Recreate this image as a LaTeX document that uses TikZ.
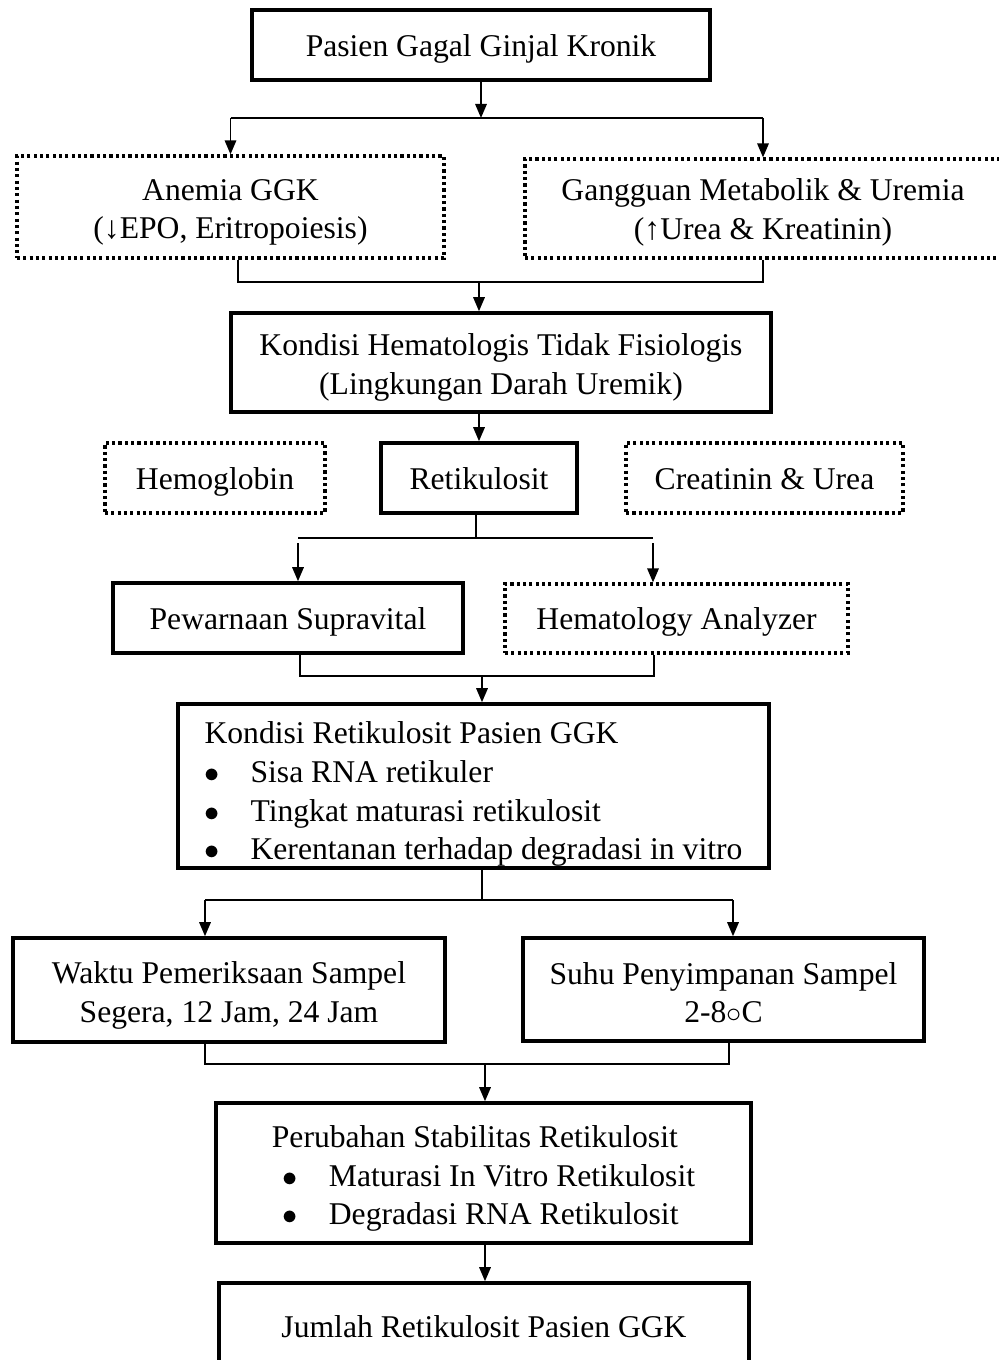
\documentclass[tikz,border=0pt]{standalone}
\usepackage{fontspec}
\setmainfont{Liberation Serif}
\usepackage{tikz}
\usetikzlibrary{arrows.meta, positioning, calc}
\tikzstyle{kotak} = [draw, line width=2pt, align=center, inner sep=2pt]
\tikzstyle{titik} = [draw, line width=1.8pt, dash pattern=on 1.8pt off 1.8pt, align=center, inner sep=2pt]
\tikzstyle{satu} = [text height=16pt, text depth=3pt]
\tikzstyle{garis} = [line width=1.1pt]
\tikzstyle{panah} = [-{Triangle[length=8pt, width=6.5pt]}, line width=1.1pt]
\newcommand{\butir}[2]{\hspace*{#1}\makebox[0.92cm][l]{$\bullet$}#2}
\newcommand{\atas}[1]{\rule{0pt}{#1}}

\begin{document}
\begin{tikzpicture}[font=\fontsize{18}{22}\selectfont]
    \useasboundingbox (0,0) rectangle (19.96,-27.2);

    % Pasien dan penyebab
    \node[kotak, satu, minimum width=9.16cm, minimum height=1.4cm] (pasien) at (9.62,-0.9) {Pasien Gagal Ginjal Kronik};
    \node[titik, minimum width=8.54cm, minimum height=2.04cm] (anemia) at (4.61,-4.14) {\atas{18pt}Anemia GGK\\(↓EPO, Eritropoiesis)};
    \node[titik, minimum width=9.52cm, minimum height=1.98cm] (gangguan) at (15.26,-4.17) {\atas{17pt}Gangguan Metabolik \& Uremia\\(↑Urea \& Kreatinin)};
    \node[kotak, minimum width=10.8cm, minimum height=1.98cm] (hemato) at (10.02,-7.25) {\atas{18pt}Kondisi Hematologis Tidak Fisiologis\\(Lingkungan Darah Uremik)};

    \coordinate (j1) at (9.62,-2.36);
    \coordinate (j2) at (9.58,-5.64);
    \draw[panah] (pasien) -- (j1);
    \draw[garis] (anemia.north |- j1) -- (gangguan.north |- j1);
    \draw[panah] (anemia.north |- j1) -- (anemia.north);
    \draw[panah] (gangguan.north |- j1) -- (gangguan.north);
    \draw[garis] ([xshift=0.15cm]anemia.south) |- (gangguan.south |- j2) -- (gangguan.south);
    \draw[panah] (j2) -- (j2 |- hemato.north);

    % Parameter
    \node[titik, satu, minimum width=4.4cm, minimum height=1.4cm] (hb) at (4.3,-9.56) {Hemoglobin};
    \node[kotak, satu, minimum width=3.92cm, minimum height=1.4cm] (retik) at (9.58,-9.56) {Retikulosit};
    \node[titik, satu, minimum width=5.54cm, minimum height=1.4cm] (kreat) at (15.29,-9.56) {Creatinin \& Urea};
    \draw[panah] (hemato.south -| retik) -- (retik.north);

    % Metode pemeriksaan
    \node[kotak, satu, minimum width=7.0cm, minimum height=1.4cm] (pewarnaan) at (5.76,-12.36) {Pewarnaan Supravital};
    \node[titik, satu, minimum width=6.86cm, minimum height=1.38cm] (analyzer) at (13.53,-12.37) {Hematology Analyzer};

    \coordinate (j3) at (9.52,-10.76);
    \coordinate (j3_kiri) at (5.96,-10.76);
    \coordinate (j3_kanan) at (13.06,-10.76);
    \draw[garis] (retik.south -| j3) -- (j3);
    \draw[garis] (j3_kiri) -- (j3_kanan);
    \draw[panah] ([yshift=-0.1cm]j3_kiri) -- (j3_kiri |- pewarnaan.north);
    \draw[panah] ([yshift=-0.1cm]j3_kanan) -- (j3_kanan |- analyzer.north);

    \node[kotak, inner ysep=0pt, minimum width=11.82cm, minimum height=3.28cm, align=left] (kondret) at (9.47,-15.72)
        {\atas{22pt}Kondisi Retikulosit Pasien GGK\\
         \butir{0cm}{Sisa RNA retikuler}\\
         \butir{0cm}{Tingkat maturasi retikulosit}\\
         \butir{0cm}{Kerentanan terhadap degradasi in vitro}};

    \coordinate (j4) at (9.64,-13.52);
    \draw[garis] (6.0,-12.36 |- pewarnaan.south) |- (13.08,-13.52) -- (13.08,-12.36 |- analyzer.south);
    \draw[panah] (j4) -- (j4 |- kondret.north);

    % Perlakuan sampel
    \node[kotak, minimum width=8.64cm, minimum height=2.08cm] (waktu) at (4.58,-19.8) {\atas{19pt}Waktu Pemeriksaan Sampel\\Segera, 12 Jam, 24 Jam};
    \node[kotak, minimum width=8.02cm, minimum height=2.06cm] (suhu) at (14.47,-19.79) {\atas{16pt}Suhu Penyimpanan Sampel\\2-8$\circ$C};

    \coordinate (j5) at (9.64,-18.0);
    \coordinate (j5_kiri) at (4.1,-18.0);
    \coordinate (j5_kanan) at (14.66,-18.0);
    \draw[garis] (kondret.south -| j5) -- (j5);
    \draw[garis] (j5_kiri) -- (j5_kanan);
    \draw[panah] (j5_kiri) -- (j5_kiri |- waktu.north);
    \draw[panah] (j5_kanan) -- (j5_kanan |- suhu.north);

    % Hasil
    \node[kotak, minimum width=10.7cm, minimum height=2.8cm, align=left] (perubahan) at (9.67,-23.46)
        {\atas{19pt}Perubahan Stabilitas Retikulosit\\
         \butir{0.22cm}{Maturasi In Vitro Retikulosit}\\
         \butir{0.22cm}{Degradasi RNA Retikulosit}};
    \node[kotak, satu, minimum width=10.6cm, minimum height=1.72cm] (jumlah) at (9.68,-26.52) {Jumlah Retikulosit Pasien GGK};

    \coordinate (j6) at (9.7,-21.28);
    \draw[garis] (waktu.south -| j5_kiri) |- (14.58,-21.28) -- (14.58,-20 |- suhu.south);
    \draw[panah] (j6) -- (j6 |- perubahan.north);
    \draw[panah] (perubahan.south -| j6) -- (jumlah.north -| j6);
\end{tikzpicture}
\end{document}
